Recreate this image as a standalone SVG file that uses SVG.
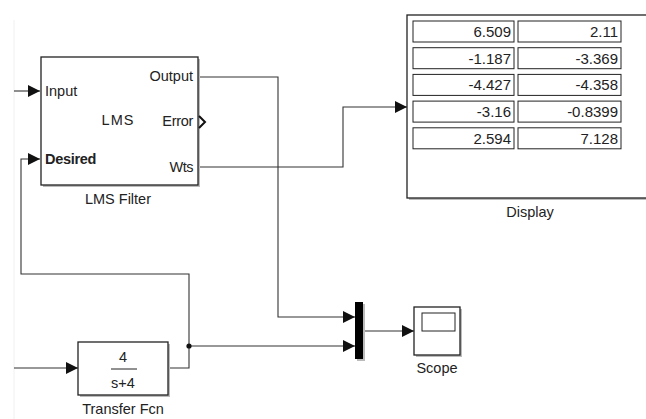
<svg xmlns="http://www.w3.org/2000/svg" width="646" height="419" viewBox="0 0 646 419">
<style>
text{font-family:"Liberation Sans",Arial,sans-serif;font-size:14.5px;fill:#222}
.blk{fill:#fff;stroke:#222;stroke-width:1.3}
.sh{fill:#bbb}
.ln{fill:none;stroke:#333;stroke-width:1.1}
.cell{fill:#fff;stroke:#222;stroke-width:1}
.num{font-size:15px}
.r{text-anchor:end}
.c{text-anchor:middle}
</style>
<defs>
<marker id="ah" viewBox="0 0 10 10" refX="10" refY="5" markerWidth="12" markerHeight="12" markerUnits="userSpaceOnUse" orient="auto">
<path d="M0,0 L10,5 L0,10 Z" fill="#111"/>
</marker>
</defs>
<rect width="646" height="419" fill="#fff"/>
<line x1="14" y1="20" x2="14" y2="419" stroke="#f0f0f0" stroke-width="1"/>

<g id="connectors">
<polyline class="ln" points="14,91 40,91" marker-end="url(#ah)"/>
<polyline class="ln" points="189,346 189,274 21,274 21,159 40,159" marker-end="url(#ah)"/>
<polyline class="ln" points="198,77 278,77 278,317 355,317" marker-end="url(#ah)"/>
<polyline class="ln" points="198,167 343,167 343,107 407,107" marker-end="url(#ah)"/>
<polyline class="ln" points="14,368 78,368" marker-end="url(#ah)"/>
<polyline class="ln" points="168,368 189,368 189,346 355,346" marker-end="url(#ah)"/>
<polyline class="ln" points="363,331 414,331" marker-end="url(#ah)"/>
<circle cx="189" cy="346" r="2.6" fill="#111"/>
</g>

<g id="lms">
<rect class="sh" x="43" y="59" width="157" height="128"/>
<rect class="blk" x="41" y="57" width="157" height="128"/>
<text x="45" y="96" font-size="15px">Input</text>
<text x="45" y="164" font-weight="bold" font-size="15px" letter-spacing="-0.3">Desired</text>
<text x="118" y="125" class="c" font-size="15px" letter-spacing="1">LMS</text>
<text x="193" y="81" class="r" font-size="15px">Output</text>
<text x="193" y="126" class="r" font-size="15px" letter-spacing="-0.3">Error</text>
<text x="193" y="172" class="r" font-size="15px" letter-spacing="-0.5">Wts</text>
<path d="M199,116 L205,122 L199,128" fill="none" stroke="#111" stroke-width="2"/>
<text x="118" y="204" class="c">LMS Filter</text>
</g>

<g id="display">
<rect class="sh" x="409" y="17" width="240" height="183"/>
<rect class="blk" x="407" y="15" width="240" height="183"/>
<rect class="cell" x="413" y="21" width="101" height="21"/>
<rect class="cell" x="518" y="21" width="103" height="21"/>
<rect class="cell" x="413" y="47.7" width="101" height="21"/>
<rect class="cell" x="518" y="47.7" width="103" height="21"/>
<rect class="cell" x="413" y="74.4" width="101" height="21"/>
<rect class="cell" x="518" y="74.4" width="103" height="21"/>
<rect class="cell" x="413" y="101.1" width="101" height="21"/>
<rect class="cell" x="518" y="101.1" width="103" height="21"/>
<rect class="cell" x="413" y="127.8" width="101" height="21"/>
<rect class="cell" x="518" y="127.8" width="103" height="21"/>
<text x="511" y="37" class="r num">6.509</text>
<text x="618" y="37" class="r num">2.11</text>
<text x="511" y="63.7" class="r num">-1.187</text>
<text x="618" y="63.7" class="r num">-3.369</text>
<text x="511" y="90.4" class="r num">-4.427</text>
<text x="618" y="90.4" class="r num">-4.358</text>
<text x="511" y="117.1" class="r num">-3.16</text>
<text x="618" y="117.1" class="r num">-0.8399</text>
<text x="511" y="143.8" class="r num">2.594</text>
<text x="618" y="143.8" class="r num">7.128</text>
<text x="530" y="217" class="c" font-size="14px">Display</text>
</g>

<g id="tf">
<rect class="sh" x="80" y="344" width="90" height="53"/>
<rect class="blk" x="78" y="342" width="90" height="53"/>
<text x="123" y="362" class="c" font-size="15px">4</text>
<line x1="111" y1="369" x2="137" y2="369" stroke="#222" stroke-width="1"/>
<text x="123" y="388" class="c" font-size="14px">s+4</text>
<text x="123" y="414" class="c" font-size="15px">Transfer Fcn</text>
</g>

<g id="mux">
<rect class="sh" x="357" y="304" width="8" height="57"/>
<rect x="355" y="302" width="8" height="57" fill="#000"/>
</g>

<g id="scope">
<rect class="sh" x="416" y="309" width="46" height="48"/>
<rect class="blk" x="414" y="307" width="46" height="48"/>
<rect x="422" y="313" width="33" height="18" fill="#fff" stroke="#222" stroke-width="1"/>
<text x="437" y="373" class="c">Scope</text>
</g>
</svg>
